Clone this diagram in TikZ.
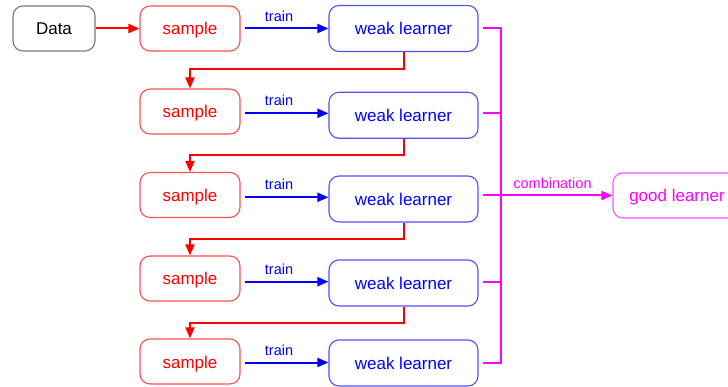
\documentclass[tikz,border=0pt]{standalone}
\usepackage{fontspec}
\setmainfont{Liberation Sans}
\usetikzlibrary{arrows.meta,calc}

\definecolor{pred}{RGB}{255,0,0}
\definecolor{pblue}{RGB}{0,0,255}
\definecolor{pmag}{RGB}{255,0,255}
\definecolor{edgered}{RGB}{255,80,80}
\definecolor{edgeblue}{RGB}{80,80,255}
\definecolor{edgemag}{RGB}{255,80,255}
\definecolor{edgegray}{RGB}{120,120,120}

\begin{document}
\begin{tikzpicture}[x=1pt,y=-1pt,
  box/.style={draw, rounded corners=10pt, line width=1.1pt, minimum height=45pt,
              inner sep=0pt, text height=13pt, text depth=0pt,
              font=\fontsize{17}{20}\selectfont},
  databox/.style={box, draw=edgegray, text=black, minimum width=82pt},
  samplebox/.style={box, draw=edgered, text=pred, minimum width=100pt},
  weakbox/.style={box, draw=edgeblue, text=pblue, minimum width=149pt, minimum height=46pt},
  goodbox/.style={box, draw=edgemag, text=pmag, minimum width=128pt},
  tip/.style={-{Triangle[length=11pt,width=9pt]}},
  redflow/.style={draw=pred, line width=2pt, tip},
  trainflow/.style={draw=pblue, line width=2pt, tip},
  busline/.style={draw=pmag, line width=2pt},
  note/.style={inner sep=0pt, anchor=south, font=\fontsize{14.5}{16}\selectfont}
]
\useasboundingbox (0,0) rectangle (728,387);

% input
\node[databox] (data) at (54,28.5) {Data};

% one sample / weak learner pair per row
\foreach \i/\sy/\wy/\ty in {1/28.5/28.5/28.5, 2/111.5/115.3/113.3,
                            3/195/199/197.3, 4/278.5/283/281.7, 5/361.5/363/362.5}{
  \node[samplebox] (s\i) at (190,\sy) {sample};
  \node[weakbox] (w\i) at (403.5,\wy) {weak learner};
  \coordinate (t\i) at (0,\ty);
  \draw[trainflow, shorten <=4pt] (s\i.east |- t\i) -- (w\i.west |- t\i);
  \node[note, text=pblue] at (279,\ty-7) {train};
}

% result
\node[goodbox] (good) at (677,195.5) {good learner};

% data feeds the first sample
\draw[redflow] (data.east) -- (s1.west);

% each weak learner drives the next resampling
\foreach \i/\j in {1/2,2/3,3/4,4/5}{
  \draw[redflow] (w\i.south) -- ++(0,16.5) -| (s\j.north);
}

% combination bus
\coordinate (bus) at (501,0);
\draw[busline, shorten <=4pt, shorten >=4pt]
  (w1.east |- t1) -- (bus |- t1) -- (bus |- t5) -- (w5.east |- t5);
\foreach \i in {2,4}{
  \draw[busline, shorten <=4pt] (w\i.east |- t\i) -- (bus |- t\i);
}
\draw[busline, tip, shorten <=4pt] (w3.east |- good) -- (good.west);
\node[note, text=pmag] at (552.5,188.5) {combination};
\end{tikzpicture}
\end{document}
